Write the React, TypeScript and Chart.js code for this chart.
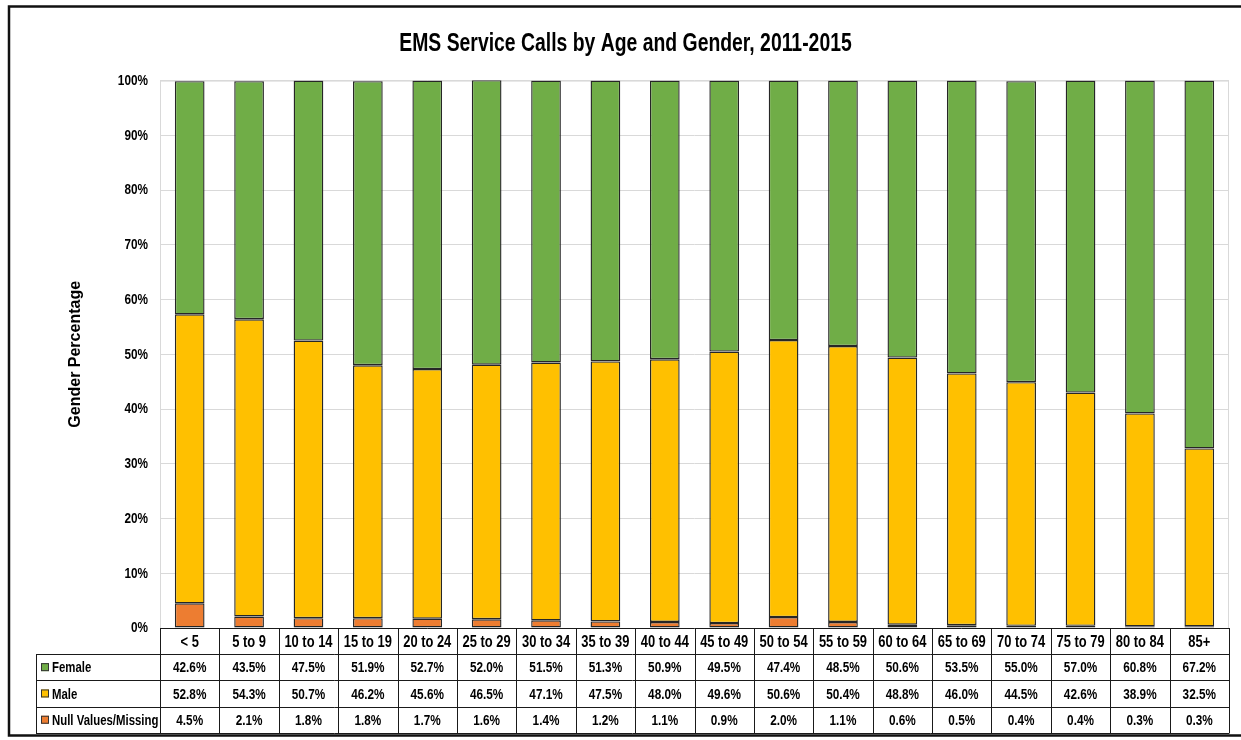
import React, { useEffect, useRef } from "react";
import { Chart, registerables } from "chart.js";

Chart.register(...registerables);

const ageGroups = ["< 5", "5 to 9", "10 to 14", "15 to 19", "20 to 24", "25 to 29", "30 to 34", "35 to 39", "40 to 44", "45 to 49", "50 to 54", "55 to 59", "60 to 64", "65 to 69", "70 to 74", "75 to 79", "80 to 84", "85+"];
const female = [42.6, 43.5, 47.5, 51.9, 52.7, 52.0, 51.5, 51.3, 50.9, 49.5, 47.4, 48.5, 50.6, 53.5, 55.0, 57.0, 60.8, 67.2];
const male = [52.8, 54.3, 50.7, 46.2, 45.6, 46.5, 47.1, 47.5, 48.0, 49.6, 50.6, 50.4, 48.8, 46.0, 44.5, 42.6, 38.9, 32.5];
const nullMissing = [4.5, 2.1, 1.8, 1.8, 1.7, 1.6, 1.4, 1.2, 1.1, 0.9, 2.0, 1.1, 0.6, 0.5, 0.4, 0.4, 0.3, 0.3];
const seriesNames = ["Female", "Male", "Null Values/Missing"];
const yTicks = [0, 10, 20, 30, 40, 50, 60, 70, 80, 90, 100];

const GREEN = "#70AD47";
const YELLOW = "#FFC000";
const ORANGE = "#ED7D31";
const EDGE = "#262626";
const FONT = "'Liberation Sans', Arial, sans-serif";
const SQUEEZE = 0.76;

const tablePlugin = {
  id: "dataTable",
  beforeDatasetsDraw(chart: any) {
    const { ctx, chartArea } = chart;
    ctx.save();
    ctx.strokeStyle = "#d9d9d9";
    ctx.lineWidth = 1;
    ctx.strokeRect(chartArea.left + 0.5, chartArea.top + 0.5, chartArea.right - chartArea.left - 1, chartArea.bottom - chartArea.top);
    ctx.restore();
  },
  afterDraw(chart: any) {
    const { ctx, chartArea } = chart;
    const x = chart.scales.x;
    const n = ageGroups.length;
    const colW = (chartArea.right - chartArea.left) / n;
    const top = chartArea.bottom;
    const headerH = 26;
    const rowH = 26.3;
    const labelLeft = 36;
    const rows = [female, male, nullMissing];
    const colors = [GREEN, YELLOW, ORANGE];
    const bottom = top + headerH + rowH * 3;
    ctx.save();
    ctx.strokeStyle = "#1a1a1a";
    ctx.lineWidth = 1;
    ctx.beginPath();
    ctx.moveTo(chartArea.left, Math.round(top) + 0.5);
    ctx.lineTo(chartArea.right, Math.round(top) + 0.5);
    for (let r = 0; r <= 3; r++) {
      const y = Math.round(top + headerH + r * rowH) + 0.5;
      ctx.moveTo(labelLeft, y);
      ctx.lineTo(chartArea.right, y);
    }
    for (let i = 0; i <= n; i++) {
      const xx = Math.round(chartArea.left + i * colW) + 0.5;
      ctx.moveTo(xx, top);
      ctx.lineTo(xx, Math.round(bottom) + 0.5);
    }
    ctx.moveTo(labelLeft + 0.5, Math.round(top + headerH) + 0.5);
    ctx.lineTo(labelLeft + 0.5, Math.round(bottom) + 0.5);
    ctx.stroke();

    ctx.fillStyle = "#000";
    ctx.textBaseline = "middle";
    for (let r = 0; r < 3; r++) {
      const cy = top + headerH + r * rowH + rowH / 2;
      ctx.fillStyle = colors[r];
      ctx.fillRect(41, cy - 4, 8, 8);
      ctx.strokeStyle = "#333";
      ctx.strokeRect(41.5, cy - 3.5, 7, 7);
      ctx.fillStyle = "#000";
      ctx.textAlign = "left";
      ctx.font = "bold 15px " + FONT;
      ctx.fillText(seriesNames[r], 52, cy + 1);
      ctx.textAlign = "center";
      ctx.font = "bold 15.5px " + FONT;
      for (let i = 0; i < n; i++) {
        ctx.fillText(rows[r][i].toFixed(1) + "%", x.getPixelForValue(i), cy + 1);
      }
    }
    ctx.strokeStyle = "#111";
    ctx.lineWidth = 2.5;
    ctx.strokeRect(9, 6.5, 1250, 729);
    ctx.restore();
  },
};

export default function App() {
  const ref = useRef<HTMLCanvasElement | null>(null);
  useEffect(() => {
    if (!ref.current) return;
    const ctx2d: any = ref.current.getContext("2d");
    const origFill = ctx2d.fillText.bind(ctx2d);
    // narrow (condensed) lettering for horizontal text
    ctx2d.fillText = (text: string, px: number, py: number, maxWidth?: number) => {
      const m = ctx2d.getTransform();
      if (Math.abs(m.b) > 1e-6) {
        return maxWidth === undefined ? origFill(text, px, py) : origFill(text, px, py, maxWidth);
      }
      ctx2d.save();
      ctx2d.translate(px, py);
      ctx2d.scale(SQUEEZE, 1);
      origFill(text, 0, 0);
      ctx2d.restore();
    };
    const chart = new Chart(ref.current, {
      type: "bar",
      data: {
        labels: ageGroups,
        datasets: [
          { label: seriesNames[2], data: nullMissing, backgroundColor: ORANGE, borderColor: EDGE, borderWidth: 1.4, borderSkipped: false },
          { label: seriesNames[1], data: male, backgroundColor: YELLOW, borderColor: EDGE, borderWidth: 1.4, borderSkipped: false },
          { label: seriesNames[0], data: female, backgroundColor: GREEN, borderColor: EDGE, borderWidth: 1.4, borderSkipped: false },
        ],
      },
      options: {
        responsive: false,
        animation: false,
        devicePixelRatio: 1,
        datasets: { bar: { categoryPercentage: 1, barPercentage: 0.5 } },
        layout: { padding: { left: 22, right: 12, top: 0, bottom: 0 } },
        plugins: {
          legend: { display: false },
          tooltip: { enabled: false },
          title: {
            display: true,
            text: "EMS Service Calls by Age and Gender, 2011-2015",
            color: "#000",
            font: { family: FONT, size: 25.5, weight: "bold" },
            padding: { top: 29, bottom: 21 },
          },
        },
        scales: {
          x: {
            stacked: true,
            grid: { display: false, drawTicks: false },
            border: { display: false },
            ticks: { color: "#000", font: { family: FONT, size: 17, weight: "bold" }, padding: 4, maxRotation: 0, minRotation: 0, autoSkip: false },
            afterFit: (s: any) => { s.height = 112; },
          },
          y: {
            stacked: true,
            min: 0,
            max: 100,
            grid: { color: "#d9d9d9", drawTicks: false },
            border: { display: false },
            afterBuildTicks: (s: any) => { s.ticks = yTicks.map((v) => ({ value: v })); },
            ticks: {
              color: "#000",
              padding: 12,
              font: { family: FONT, size: 15.5, weight: "bold" },
              callback: (v: any) => v + "%",
            },
            title: {
              display: true,
              text: "Gender Percentage",
              color: "#000",
              font: { family: FONT, size: 16, weight: "bold" },
              padding: { top: 44, bottom: 3 },
            },
            afterFit: (s: any) => { s.width = 138; },
          },
        },
      },
      plugins: [tablePlugin],
    });
    return () => {
      chart.destroy();
      ctx2d.fillText = origFill;
    };
  }, []);
  return (
    <div style={{ position: "fixed", left: 0, top: 0, width: 1241, height: 740, background: "#fff" }}>
      <canvas ref={ref} width={1241} height={740} style={{ display: "block" }} />
    </div>
  );
}
